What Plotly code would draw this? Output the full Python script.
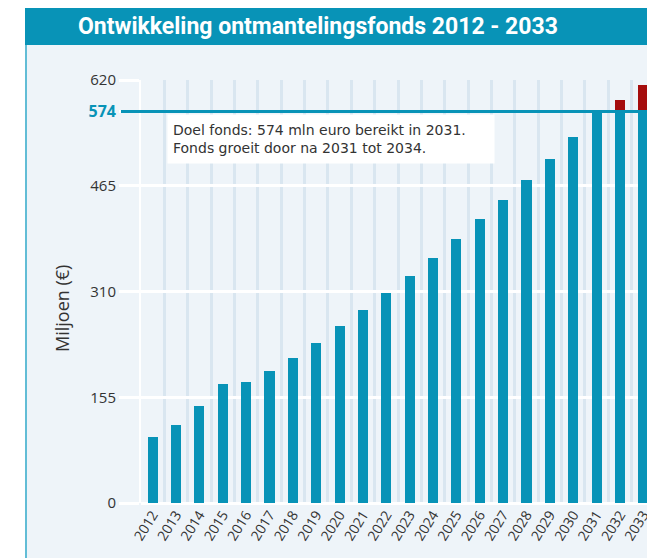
import plotly.graph_objects as go

years = [str(y) for y in range(2012, 2034)]
values = [97, 114, 142, 174, 177, 193, 212, 235, 259, 283, 308, 333, 359, 387,
          416, 444, 474, 504, 537, 574, 591, 613]
target = 574
ytick_vals = [0, 155, 310, 465, 574, 620]
ytick_text = ["0", "155", "310", "465",
              "<b><span style='color:#0893b7;font-size:16px'>574</span></b>", "620"]
title_text = "<b>Ontwikkeling ontmantelingsfonds 2012 - 2033</b>"
note_text = "Doel fonds: 574 mln euro bereikt in 2031.<br>Fonds groeit door na 2031 tot 2034."
ytitle_text = "Miljoen (€)"

TEAL = "#0893b7"
RED = "#a50d0d"
BG = "#eef4f9"

base = [min(v, target) for v in values]
excess = [max(v - target, 0) for v in values]

fig = go.Figure()
fig.add_trace(go.Bar(x=years, y=base, marker=dict(color=TEAL, line=dict(width=0)),
                     width=0.43, showlegend=False, hoverinfo="skip"))
fig.add_trace(go.Bar(x=years, y=excess, marker=dict(color=RED, line=dict(width=0)),
                     width=0.43, showlegend=False, hoverinfo="skip"))

OFF = 8  # page body margin
W, H = 655 - OFF, 558 - OFF
# plot area in page pixels
PL, PR, PT, PB = 141, 655, 80, 503
ml, mr, mt, mb = PL - OFF, 0, PT - OFF, H - (PB - OFF)
pw, ph = PR - PL, PB - PT

def px_x(p):
    return (p - PL) / pw

def px_y(p):
    return (PB - p) / ph

shapes = [
    dict(type="rect", xref="paper", yref="paper", x0=px_x(25), x1=px_x(680),
         y0=px_y(600), y1=px_y(45), fillcolor=BG, line=dict(width=0), layer="below"),
    dict(type="line", xref="paper", yref="paper", x0=px_x(26), x1=px_x(26),
         y0=px_y(600), y1=px_y(45), line=dict(color="#62bdd6", width=2), layer="below"),
    dict(type="rect", xref="paper", yref="paper", x0=px_x(25), x1=px_x(680),
         y0=px_y(45), y1=px_y(7), fillcolor=TEAL, line=dict(width=0), layer="below"),
    dict(type="line", xref="paper", yref="y", x0=px_x(121), x1=1.0,
         y0=target, y1=target, line=dict(color=TEAL, width=3), layer="above"),
]

annotations = [
    dict(text=title_text, xref="paper", yref="paper", x=px_x(76), y=px_y(27),
         xanchor="left", yanchor="middle", showarrow=False,
         font=dict(family="Roboto, sans-serif", size=23, color="white")),
    dict(text=note_text, xref="paper", yref="paper", x=px_x(167), y=px_y(114),
         xanchor="left", yanchor="top", showarrow=False, align="left",
         bgcolor="white", borderpad=5, width=316, height=38,
         font=dict(family="DejaVu Sans, sans-serif", size=14, color="#333333")),
    dict(text=ytitle_text, xref="paper", yref="paper", x=px_x(62), y=px_y(309),
         xanchor="center", yanchor="middle", showarrow=False, textangle=-90,
         font=dict(family="Open Sans, sans-serif", size=18, color="#333333")),
]

fig.update_layout(
    width=W, height=H,
    margin=dict(l=ml, r=mr, t=mt, b=mb),
    barmode="stack", bargap=0.57,
    paper_bgcolor="white", plot_bgcolor="rgba(0,0,0,0)",
    font=dict(family="Open Sans, sans-serif", size=14, color="#333333"),
    shapes=shapes, annotations=annotations,
    xaxis=dict(type="category", tickangle=-58, tickson="boundaries",
               showgrid=True, gridcolor="#d9e6f0", gridwidth=3,
               ticks="", showline=False, zeroline=False,
               tickfont=dict(size=14, color="#333333"), automargin=False),
    yaxis=dict(range=[0, 620], tickvals=ytick_vals, ticktext=ytick_text,
               showgrid=True, gridcolor="white", gridwidth=3,
               ticks="outside", ticklen=20, tickcolor="white", tickwidth=3,
               showline=True, linecolor="white", linewidth=2,
               zeroline=True, zerolinecolor="white", zerolinewidth=3,
               tickfont=dict(size=15, color="#333333"), automargin=False),
)

fig.write_html("out.html")
